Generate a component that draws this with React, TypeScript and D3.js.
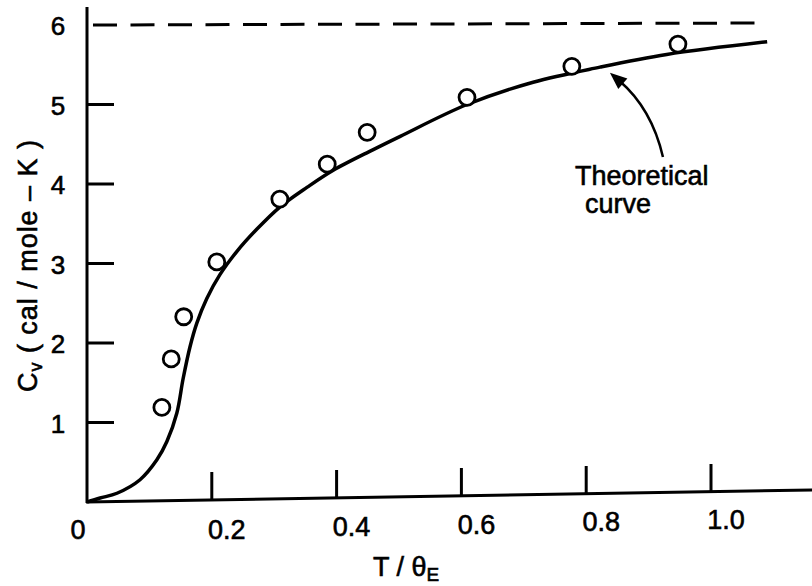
import React from 'react'
import * as d3 from 'd3'

// experimental points (T/θE, Cv)
const obsT = [0.12, 0.135, 0.155, 0.208, 0.309, 0.385, 0.449, 0.609, 0.777, 0.947]
const obsCv = [1.19, 1.8, 2.33, 3.02, 3.81, 4.25, 4.65, 5.09, 5.48, 5.76]

// theoretical curve
const curveT = [0, 0.021, 0.048, 0.085, 0.112, 0.128, 0.144, 0.154, 0.165, 0.176, 0.192, 0.213, 0.24, 0.272, 0.309, 0.353, 0.394, 0.458, 0.502, 0.609, 0.715, 0.822, 0.929, 1.09]
const curveCv = [0, 0.05, 0.11, 0.28, 0.53, 0.76, 1.12, 1.55, 1.95, 2.25, 2.56, 2.86, 3.15, 3.43, 3.71, 3.96, 4.17, 4.43, 4.6, 5.0, 5.28, 5.47, 5.63, 5.79]

const xTicks = [0.2, 0.4, 0.6, 0.8, 1.0]
const xTickLabels = ['0.2', '0.4', '0.6', '0.8', '1.0']
const yTicks = [1, 2, 3, 4, 5, 6]
const limitCv = 6

const W = 812
const H = 586
const font = '"Liberation Sans", Arial, Helvetica, sans-serif'

const App = () => {
    const x = d3.scaleLinear([0, 1], [87, 711])
    const y = d3.scaleLinear([0, 6], [502, 25])

    const pts: [number, number][] = curveT.map((t, i) => [t, curveCv[i]])
    const line = d3.line<[number, number]>()
        .x(d => x(d[0]))
        .y(d => y(d[1]))
        .curve(d3.curveCatmullRom.alpha(0.5))

    // arrow from label to curve
    const tail: [number, number] = [x(0.923), y(4.34)]
    const tip: [number, number] = [x(0.838), y(5.40)]
    const ctrl: [number, number] = [x(0.905), y(4.95)]
    const ang = Math.atan2(tip[1] - ctrl[1], tip[0] - ctrl[0])
    const hl = 17, hw = 7
    const bx = tip[0] - hl * Math.cos(ang), by = tip[1] - hl * Math.sin(ang)
    const head = [
        [tip[0], tip[1]],
        [bx + hw * Math.sin(ang), by - hw * Math.cos(ang)],
        [bx - hw * Math.sin(ang), by + hw * Math.cos(ang)],
    ].map(p => p.join(',')).join(' ')
    const shaftEnd = [tip[0] - 12 * Math.cos(ang), tip[1] - 12 * Math.sin(ang)]

    // scanned print looks a bit heavy, thicken glyphs slightly
    const txt = { stroke: '#000', strokeWidth: 0.6 }

    return (
        <div style={{ position: 'absolute', left: 0, top: 0 }}>
            <svg width={W} height={H} style={{ display: 'block', background: '#fff' }} fontFamily={font}>
                {/* axes */}
                <line x1={x(0)} y1={7} x2={x(0)} y2={y(0) + 1} stroke="#000" strokeWidth={3} />
                <line x1={x(0) - 1} y1={y(0)} x2={W} y2={y(0) - 12} stroke="#000" strokeWidth={3} />
                {yTicks.slice(0, 5).map(v => (
                    <line key={'yt' + v} x1={x(0)} x2={x(0) + 27} y1={y(v)} y2={y(v)} stroke="#000" strokeWidth={3} />
                ))}
                {xTicks.map(v => (
                    <line key={'xt' + v} x1={x(v)} x2={x(v)} y1={y(0) - 1 - v * 10} y2={y(0) - 28 - v * 10} stroke="#000" strokeWidth={3} />
                ))}
                {/* tick labels */}
                {yTicks.map(v => (
                    <text key={'yl' + v} x={58} y={y(v) + 10} fontSize={26} textAnchor="middle" {...txt}>{v}</text>
                ))}
                <text x={78} y={539} fontSize={27} textAnchor="middle" {...txt}>0</text>
                {xTicks.map((v, i) => (
                    <text key={'xl' + v} x={x(v) + 15} y={541 - v * 12} fontSize={27} textAnchor="middle" {...txt}>{xTickLabels[i]}</text>
                ))}
                {/* axis titles */}
                <text x={373} y={576} fontSize={27} {...txt}>T / θ<tspan fontSize={19} dy={5}>E</tspan></text>
                <text transform={`translate(37,${266}) rotate(-90)`} fontSize={27} textAnchor="middle" textLength={252} lengthAdjust="spacing" {...txt}>
                    C<tspan fontSize={18} dy={5}>v</tspan><tspan dy={-5}> ( cal / mole – K )</tspan>
                </text>
                {/* classical limit */}
                <line x1={93} x2={762} y1={y(limitCv)} y2={y(limitCv) - 2} stroke="#000" strokeWidth={3} strokeDasharray="24 13.5" />
                {/* theoretical curve */}
                <path d={line(pts) ?? ''} fill="none" stroke="#000" strokeWidth={3.5} />
                {/* measured points */}
                {obsT.map((t, i) => (
                    <circle key={'p' + i} cx={x(t)} cy={y(obsCv[i])} r={8} fill="#fff" stroke="#000" strokeWidth={2.8} />
                ))}
                {/* annotation */}
                <path d={`M${tail[0]},${tail[1]} Q${ctrl[0]},${ctrl[1]} ${shaftEnd[0]},${shaftEnd[1]}`} fill="none" stroke="#000" strokeWidth={2.5} />
                <polygon points={head} fill="#000" />
                <text x={575} y={185} fontSize={27} {...txt}>Theoretical</text>
                <text x={585} y={213} fontSize={27} {...txt}>curve</text>
            </svg>
        </div>
    )
}

export default App
